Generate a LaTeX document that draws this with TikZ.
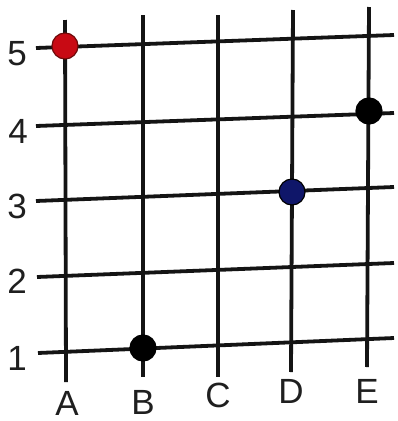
\documentclass[tikz,border=0pt]{standalone}
\usepackage{fontspec}
\setmainfont{Liberation Sans}
\begin{document}
\begin{tikzpicture}[x=1pt,y=-1pt,
  gridline/.style={line width=3.8pt, black!92, line cap=butt},
  lbl/.style={font=\fontsize{35}{35}\selectfont, inner sep=0pt, text=black!88},
  dot/.style={circle, minimum size=26pt, inner sep=0pt, draw=black, line width=1.2pt}]
\useasboundingbox (0,0) rectangle (397,421);
\fill[white] (0,0) rectangle (397,421);
% horizontal lines
\coordinate (h5l) at (36,48);  \coordinate (h5r) at (394,35);
\coordinate (h4l) at (36,126); \coordinate (h4r) at (394,113);
\coordinate (h3l) at (36,201); \coordinate (h3r) at (394,187);
\coordinate (h2l) at (37,277); \coordinate (h2r) at (394,263);
\coordinate (h1l) at (38,353); \coordinate (h1r) at (394,338);
\foreach \r in {1,...,5} {\draw[gridline] (h\r l) -- (h\r r);}
% vertical lines
\coordinate (vAt) at (65,20);  \coordinate (vAb) at (66,382);
\coordinate (vBt) at (143,15); \coordinate (vBb) at (143,377);
\coordinate (vCt) at (218,15); \coordinate (vCb) at (218,377);
\coordinate (vDt) at (293,10); \coordinate (vDb) at (291,372);
\coordinate (vEt) at (369,7);  \coordinate (vEb) at (367,367);
\foreach \c in {A,B,C,D,E} {\draw[gridline] (v\c t) -- (v\c b);}
% points
\node[dot, fill={rgb,255:red,200;green,10;blue,20}, draw={rgb,255:red,110;green,10;blue,10}] (pA5) at (65,46) {};
\node[dot, fill=black] (pB1) at (143,348) {};
\node[dot, fill={rgb,255:red,15;green,22;blue,105}] (pD3) at (292,192) {};
\node[dot, fill=black] (pE4) at (369,111) {};
% row labels
\node[lbl, anchor=base east] (l5) at (27,65) {5};
\node[lbl, anchor=base east] (l4) at (28,143) {4};
\node[lbl, anchor=base east] (l3) at (27,218) {3};
\node[lbl, anchor=base east] (l2) at (27,293) {2};
\node[lbl, anchor=base east] (l1) at (27,370) {1};
% column labels
\node[lbl, anchor=base] (cA) at (67,415) {A};
\node[lbl, anchor=base] (cB) at (143,414) {B};
\node[lbl, anchor=base] (cC) at (218,407) {C};
\node[lbl, anchor=base] (cD) at (291,403) {D};
\node[lbl, anchor=base] (cE) at (367,403) {E};
\end{tikzpicture}
\end{document}
